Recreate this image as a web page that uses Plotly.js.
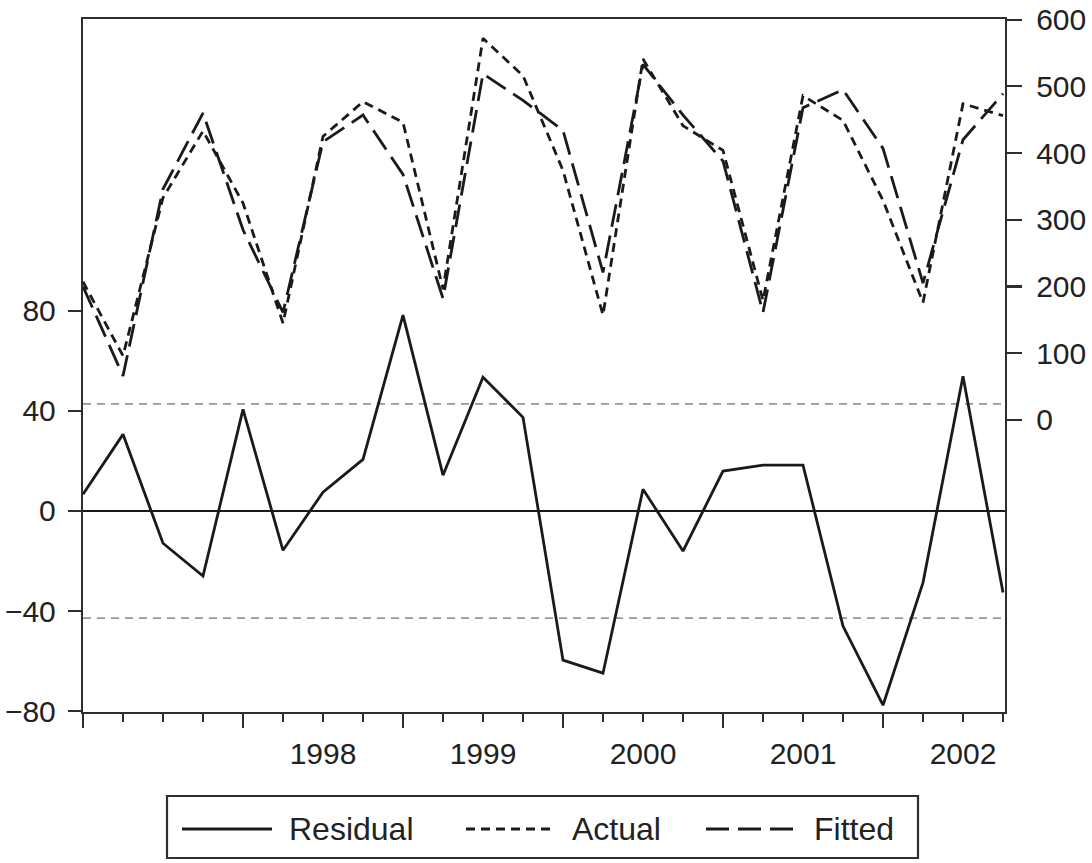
<!DOCTYPE html>
<html>
<head>
<meta charset="utf-8">
<script src="https://cdn.plot.ly/plotly-3.0.1.min.js"></script>
<style>
html,body{margin:0;padding:0;background:#fff;}
#chart{width:1092px;height:863px;}
</style>
</head>
<body>
<div id="chart"></div>
<script>
// ---- data ----
const quarters = [
  '1997Q1','1997Q2','1997Q3','1997Q4',
  '1998Q1','1998Q2','1998Q3','1998Q4',
  '1999Q1','1999Q2','1999Q3','1999Q4',
  '2000Q1','2000Q2','2000Q3','2000Q4',
  '2001Q1','2001Q2','2001Q3','2001Q4',
  '2002Q1','2002Q2','2002Q3','2002Q4'
];
const residual = [6.7, 30.6, -12.9, -26.0, 40.6, -15.7, 7.5, 20.6, 78.2, 14.3, 53.4, 37.4,
                  -59.6, -64.8, 8.7, -16.0, 15.9, 18.3, 18.3, -46.0, -77.6, -28.6, 53.8, -32.6];
const actual   = [207, 96, 333, 433, 325, 145, 425, 477, 446, 196, 572, 516,
                  374, 157, 541, 441, 404, 179, 486, 449, 329, 176, 474, 456];
const fitted   = [200, 66, 346, 460, 285, 161, 417, 457, 368, 182, 519, 479,
                  434, 221, 533, 457, 388, 161, 468, 495, 407, 205, 420, 489];
const seResid  = 42.8;
const yearLabels = ['1998','1999','2000','2001','2002'];
const residTicks = [-80, -40, 0, 40, 80];
const levelTicks = [0, 100, 200, 300, 400, 500, 600];
const seriesNames = ['Residual', 'Actual', 'Fitted'];

// ---- derived positions ----
const xIdx = quarters.map((q, i) => i);
const yearTickPos = yearLabels.map(y => quarters.indexOf(y + 'Q3'));
const yearStarts = quarters.map((q, i) => q.endsWith('Q1') ? i : -1).filter(i => i >= 0);

// ---- layout geometry ----
const W = 1092, H = 863, ML = 83, MR = 87, MT = 19, MB = 151;
const plotW = W - ML - MR, plotH = H - MT - MB;
const px2x = p => (p - ML) / plotW;
const px2y = p => (H - MB - p) / plotH;

const FONT = 'Liberation Sans, Arial, Helvetica, sans-serif';
const INK = '#1a1a1a';
const FRAME = '#2e2e2e';
const tickFont = {family: FONT, size: 30, color: '#222'};

const DASH_ACTUAL = '9px,6px';
const DASH_FITTED = '23px,9px';
const LW = 2.8;

const traces = [
  {x: xIdx, y: residual, name: seriesNames[0], type: 'scatter', mode: 'lines',
   xaxis: 'x', yaxis: 'y', line: {color: INK, width: LW}, showlegend: false},
  {x: xIdx, y: actual, name: seriesNames[1], type: 'scatter', mode: 'lines',
   xaxis: 'x2', yaxis: 'y2', line: {color: INK, width: LW, dash: DASH_ACTUAL}, showlegend: false},
  {x: xIdx, y: fitted, name: seriesNames[2], type: 'scatter', mode: 'lines',
   xaxis: 'x2', yaxis: 'y2', line: {color: INK, width: LW, dash: DASH_FITTED}, showlegend: false}
];

const xr = [0, xIdx[xIdx.length - 1] + 0.05];

// custom legend (long line samples like the reference)
const legY = px2y(829);
const legendItems = [
  {name: seriesNames[0], x0: 182, x1: 272, tx: 287, dash: 'solid'},
  {name: seriesNames[1], x0: 466, x1: 552, tx: 570, dash: DASH_ACTUAL},
  {name: seriesNames[2], x0: 706, x1: 794, tx: 812, dash: DASH_FITTED}
];

const shapes = [
  {type: 'line', xref: 'x', yref: 'y', x0: xIdx[0], x1: xIdx[xIdx.length - 1], y0: seResid, y1: seResid,
   line: {color: '#999', width: 1.8, dash: '8px,6px'}, layer: 'below'},
  {type: 'line', xref: 'x', yref: 'y', x0: xIdx[0], x1: xIdx[xIdx.length - 1], y0: -seResid, y1: -seResid,
   line: {color: '#999', width: 1.8, dash: '8px,6px'}, layer: 'below'},
  {type: 'rect', xref: 'paper', yref: 'paper', x0: px2x(167), x1: px2x(918), y0: px2y(858), y1: px2y(796),
   line: {color: FRAME, width: 2.2}, fillcolor: 'rgba(0,0,0,0)'}
];
const annotations = [];
legendItems.forEach(it => {
  shapes.push({type: 'line', xref: 'paper', yref: 'paper', x0: px2x(it.x0), x1: px2x(it.x1), y0: legY, y1: legY,
               line: {color: INK, width: LW, dash: it.dash}});
  annotations.push({xref: 'paper', yref: 'paper', x: px2x(it.tx), y: legY, text: it.name, showarrow: false,
                    xanchor: 'left', yanchor: 'middle', font: {family: FONT, size: 32, color: '#222'}});
});

const layout = {
  width: W, height: H,
  margin: {l: ML, r: MR, t: MT, b: MB, pad: 0},
  paper_bgcolor: '#fff', plot_bgcolor: '#fff',
  font: {family: FONT, color: '#222'},
  showlegend: false,
  xaxis: {
    range: xr, tickmode: 'array', tickvals: yearTickPos, ticktext: yearLabels,
    ticks: 'outside', ticklen: 8, tickwidth: 2.2, tickcolor: FRAME,
    showline: true, linecolor: FRAME, linewidth: 2.2, mirror: true,
    showgrid: false, zeroline: false, tickfont: tickFont, ticklabelstandoff: 6,
    minor: {tickmode: 'linear', tick0: 0, dtick: 1, ticks: 'outside', ticklen: 8, tickwidth: 2.2,
            tickcolor: FRAME, showgrid: false},
    fixedrange: true
  },
  xaxis2: {
    overlaying: 'x', anchor: 'y', side: 'bottom', range: xr,
    tickmode: 'array', tickvals: yearStarts, ticks: 'outside', ticklen: 15, tickwidth: 2.2, tickcolor: FRAME,
    showticklabels: false, showline: false, showgrid: false, zeroline: false, fixedrange: true
  },
  yaxis: {
    range: [-80.3, 196.5], tickmode: 'array', tickvals: residTicks,
    ticktext: residTicks.map(v => v < 0 ? '\u2212' + Math.abs(v) : String(v)),
    ticks: 'outside', ticklen: 13, tickwidth: 2.2, tickcolor: FRAME,
    showline: true, linecolor: FRAME, linewidth: 2.2,
    showgrid: false, zeroline: true, zerolinecolor: INK, zerolinewidth: 1.8,
    tickfont: tickFont, ticklabelstandoff: 6, fixedrange: true
  },
  yaxis2: {
    overlaying: 'y', side: 'right', anchor: 'x', range: [-438, 601],
    tickmode: 'array', tickvals: levelTicks,
    ticks: 'outside', ticklen: 15, tickwidth: 2.2, tickcolor: FRAME,
    showline: true, linecolor: FRAME, linewidth: 2.2,
    showgrid: false, zeroline: false, tickfont: tickFont, ticklabelstandoff: 8, fixedrange: true
  },
  shapes: shapes,
  annotations: annotations
};

Plotly.newPlot('chart', traces, layout, {displayModeBar: false, staticPlot: true});
</script>
</body>
</html>
